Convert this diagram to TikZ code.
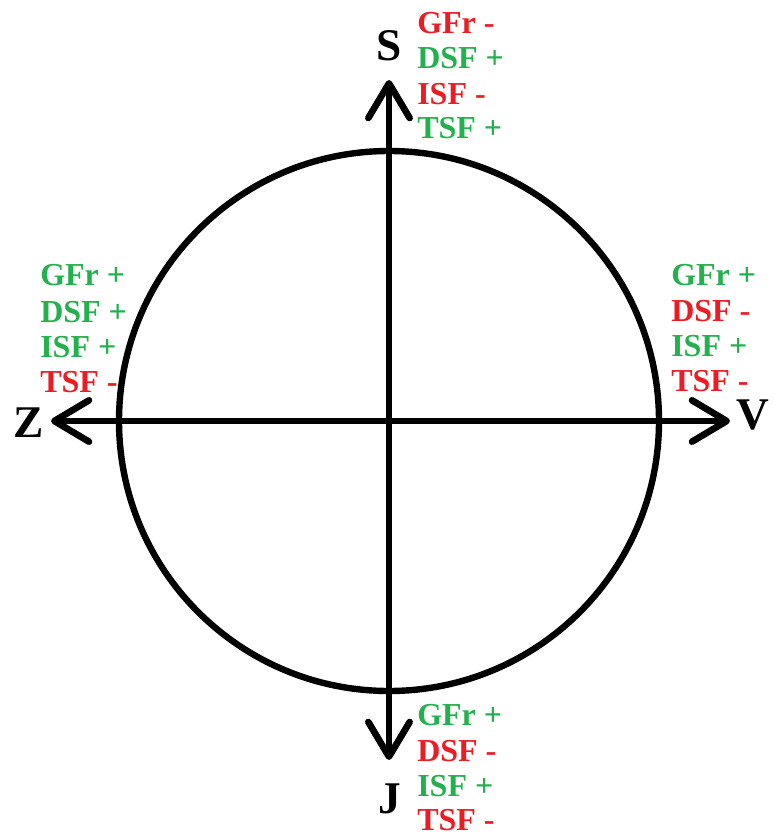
\documentclass[tikz,border=0pt]{standalone}
\usepackage{fontspec}
\setmainfont{Liberation Serif}
\usetikzlibrary{arrows.meta}
\definecolor{pred}{HTML}{ED1C24}
\definecolor{pgreen}{HTML}{22B14C}
\tikzset{
  axis/.style={line width=5pt, line cap=round, -{Straight Barb[length=26pt, width=31pt, round]}},
  ring/.style={line width=4.8pt},
  axlabel/.style={font=\bfseries\fontsize{34}{36}\selectfont, inner sep=0pt},
  item/.style={font=\bfseries\fontsize{24}{26}\selectfont, inner sep=0pt, anchor=west},
  plus/.style={item, text=pgreen},
  minus/.style={item, text=pred}
}
\begin{document}
\begin{tikzpicture}[x=0.75pt, y=-0.75pt]
\useasboundingbox (0,0) rectangle (774,832);
\coordinate (O) at (389,421);
\coordinate (top) at (389,80);
\coordinate (bottom) at (389,760);
\coordinate (left) at (51,421);
\coordinate (right) at (730,421);
\draw[ring] (O) circle[radius=202.5pt];
\draw[axis] (O) -- (top);
\draw[axis] (O) -- (bottom);
\draw[axis] (O) -- (left);
\draw[axis] (O) -- (right);
\node[axlabel] (S) at (389,46) {S};
\node[axlabel] (J) at (390,799) {J};
\node[axlabel] (Z) at (29,423) {Z};
\node[axlabel] (V) at (753,415) {V};
% top
\node[minus] (t1) at (417,23) {GFr -};
\node[plus]  (t2) at (417,58) {DSF +};
\node[minus] (t3) at (417,94) {ISF -};
\node[plus]  (t4) at (417,128) {TSF +};
% left
\node[plus]  (l1) at (40,275) {GFr +};
\node[plus]  (l2) at (40,312) {DSF +};
\node[plus]  (l3) at (40,347) {ISF +};
\node[minus] (l4) at (40,382) {TSF -};
% right
\node[plus]  (r1) at (671,275) {GFr +};
\node[minus] (r2) at (671,311) {DSF -};
\node[plus]  (r3) at (671,346) {ISF +};
\node[minus] (r4) at (671,381) {TSF -};
% bottom
\node[plus]  (b1) at (417,715) {GFr +};
\node[minus] (b2) at (417,751) {DSF -};
\node[plus]  (b3) at (417,786) {ISF +};
\node[minus] (b4) at (417,820) {TSF -};
\end{tikzpicture}
\end{document}
